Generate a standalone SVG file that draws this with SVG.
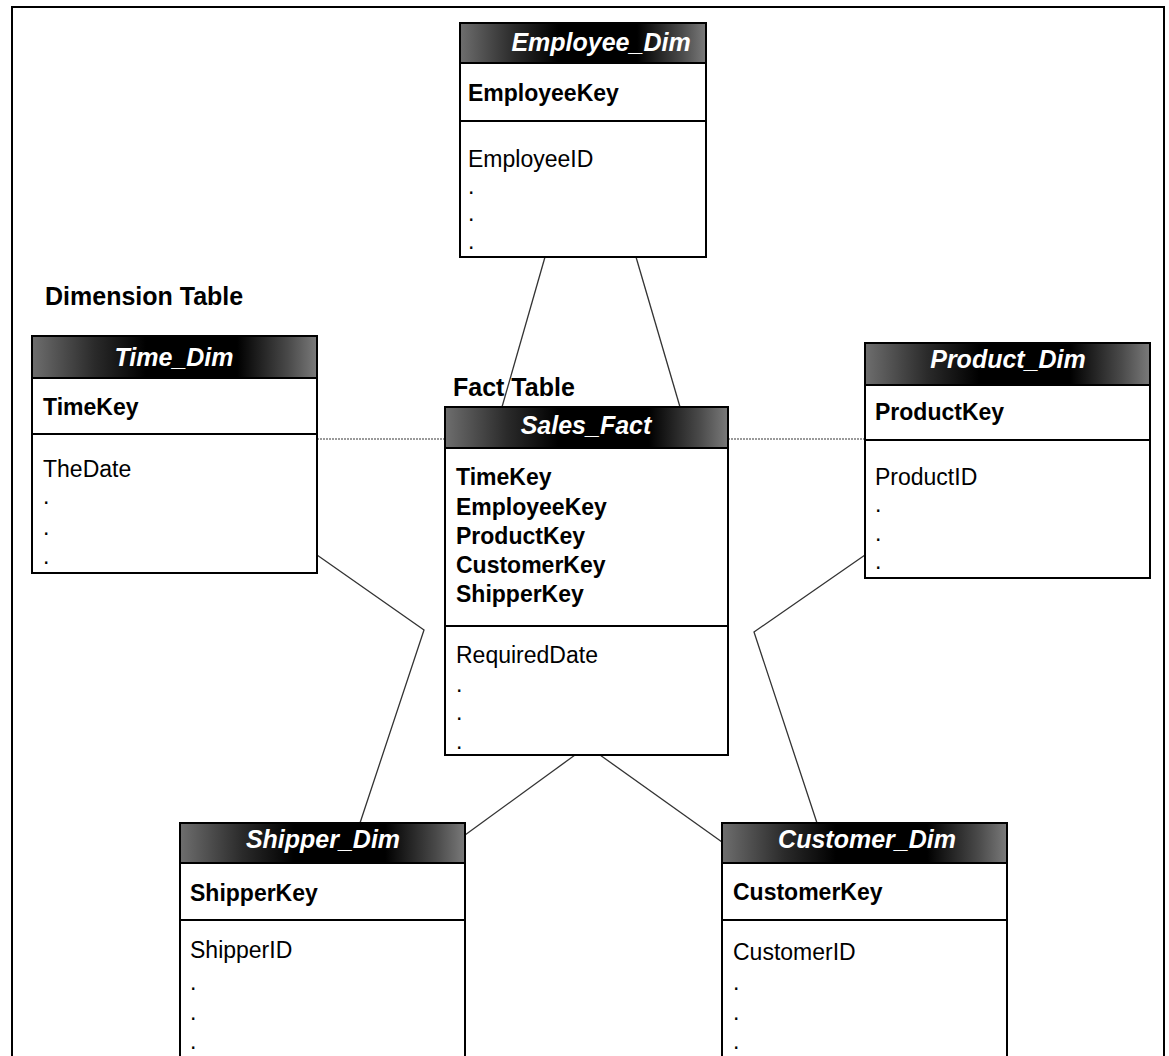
<svg xmlns="http://www.w3.org/2000/svg" width="1169" height="1056" viewBox="0 0 1169 1056">
  <defs>
    <!-- dark header band with grey halftone-like edges -->
    <linearGradient id="hdr" x1="0" y1="0" x2="1" y2="0">
      <stop offset="0" stop-color="#6e6e6e"/>
      <stop offset="0.22" stop-color="#2a2a2a"/>
      <stop offset="0.4" stop-color="#000"/>
      <stop offset="0.72" stop-color="#000"/>
      <stop offset="0.9" stop-color="#4a4a4a"/>
      <stop offset="1" stop-color="#7a7a7a"/>
    </linearGradient>
    <style>
      .frame { fill: none; stroke: #000; stroke-width: 2; }
      .box { fill: #fff; stroke: #000; stroke-width: 2; }
      .head { fill: url(#hdr); stroke: #000; stroke-width: 2; }
      .sep { stroke: #000; stroke-width: 2; }
      .title { font-family: "Liberation Sans", Arial, sans-serif; font-size: 25px; font-weight: bold; font-style: italic; fill: #fff; text-anchor: middle; }
      .key { font-family: "Liberation Sans", Arial, sans-serif; font-size: 23px; font-weight: bold; fill: #000; }
      .attr { font-family: "Liberation Sans", Arial, sans-serif; font-size: 23px; fill: #000; }
      .label { font-family: "Liberation Sans", Arial, sans-serif; font-size: 25px; font-weight: bold; fill: #000; }
      .link { fill: none; stroke: #333; stroke-width: 1.3; }
      .link-h { fill: none; stroke: #9a9a9a; stroke-width: 2.2; stroke-dasharray: 2 1; }
    </style>
  </defs>

  <rect width="1169" height="1056" fill="#fff"/>
  <rect class="frame" x="12" y="7" width="1152" height="1060"/>

  <!-- relationship lines -->
  <g id="connectors">
    <line class="link" x1="545" y1="257" x2="502" y2="407"/>
    <line class="link" x1="636" y1="257" x2="680" y2="407"/>
    <line class="link-h" x1="317" y1="439" x2="445" y2="439"/>
    <line class="link-h" x1="728" y1="439" x2="865" y2="439"/>
    <polyline class="link" points="317,555 424,630 360,823"/>
    <polyline class="link" points="865,555 754,632 817,823"/>
    <line class="link" x1="575" y1="755" x2="465" y2="835"/>
    <line class="link" x1="600" y1="755" x2="722" y2="842"/>
  </g>

  <text class="label" x="45" y="305">Dimension Table</text>
  <text class="label" x="453" y="396">Fact Table</text>

  <g id="employee_dim">
    <rect class="box" x="460" y="23" width="246" height="234"/>
    <rect class="head" x="460" y="23" width="246" height="40"/>
    <line class="sep" x1="460" y1="121" x2="706" y2="121"/>
    <text class="title" x="601" y="51">Employee_Dim</text>
    <text class="key" x="468" y="101">EmployeeKey</text>
    <text class="attr" x="468" y="167">EmployeeID</text>
    <text class="attr" x="468" y="194">.</text>
    <text class="attr" x="468" y="221">.</text>
    <text class="attr" x="468" y="249">.</text>
  </g>

  <g id="time_dim">
    <rect class="box" x="32" y="336" width="285" height="237"/>
    <rect class="head" x="32" y="336" width="285" height="42"/>
    <line class="sep" x1="32" y1="434" x2="317" y2="434"/>
    <text class="title" x="174" y="366">Time_Dim</text>
    <text class="key" x="43" y="415">TimeKey</text>
    <text class="attr" x="43" y="477">TheDate</text>
    <text class="attr" x="43" y="504">.</text>
    <text class="attr" x="43" y="535">.</text>
    <text class="attr" x="43" y="564">.</text>
  </g>

  <g id="sales_fact">
    <rect class="box" x="445" y="407" width="283" height="348"/>
    <rect class="head" x="445" y="407" width="283" height="41"/>
    <line class="sep" x1="445" y1="626" x2="728" y2="626"/>
    <text class="title" x="586" y="434">Sales_Fact</text>
    <text class="key" x="456" y="485">TimeKey</text>
    <text class="key" x="456" y="515">EmployeeKey</text>
    <text class="key" x="456" y="544">ProductKey</text>
    <text class="key" x="456" y="573">CustomerKey</text>
    <text class="key" x="456" y="602">ShipperKey</text>
    <text class="attr" x="456" y="663">RequiredDate</text>
    <text class="attr" x="456" y="692">.</text>
    <text class="attr" x="456" y="720">.</text>
    <text class="attr" x="456" y="749">.</text>
  </g>

  <g id="product_dim">
    <rect class="box" x="865" y="343" width="285" height="235"/>
    <rect class="head" x="865" y="343" width="285" height="42"/>
    <line class="sep" x1="865" y1="440" x2="1150" y2="440"/>
    <text class="title" x="1008" y="368">Product_Dim</text>
    <text class="key" x="875" y="420">ProductKey</text>
    <text class="attr" x="875" y="485">ProductID</text>
    <text class="attr" x="875" y="512">.</text>
    <text class="attr" x="875" y="541">.</text>
    <text class="attr" x="875" y="569">.</text>
  </g>

  <g id="shipper_dim">
    <rect class="box" x="180" y="823" width="285" height="240"/>
    <rect class="head" x="180" y="823" width="285" height="40"/>
    <line class="sep" x1="180" y1="920" x2="465" y2="920"/>
    <text class="title" x="323" y="848">Shipper_Dim</text>
    <text class="key" x="190" y="901">ShipperKey</text>
    <text class="attr" x="190" y="958">ShipperID</text>
    <text class="attr" x="190" y="990">.</text>
    <text class="attr" x="190" y="1020">.</text>
    <text class="attr" x="190" y="1049">.</text>
  </g>

  <g id="customer_dim">
    <rect class="box" x="722" y="823" width="285" height="240"/>
    <rect class="head" x="722" y="823" width="285" height="40"/>
    <line class="sep" x1="722" y1="920" x2="1007" y2="920"/>
    <text class="title" x="867" y="848">Customer_Dim</text>
    <text class="key" x="733" y="900">CustomerKey</text>
    <text class="attr" x="733" y="960">CustomerID</text>
    <text class="attr" x="733" y="990">.</text>
    <text class="attr" x="733" y="1020">.</text>
    <text class="attr" x="733" y="1049">.</text>
  </g>
</svg>
